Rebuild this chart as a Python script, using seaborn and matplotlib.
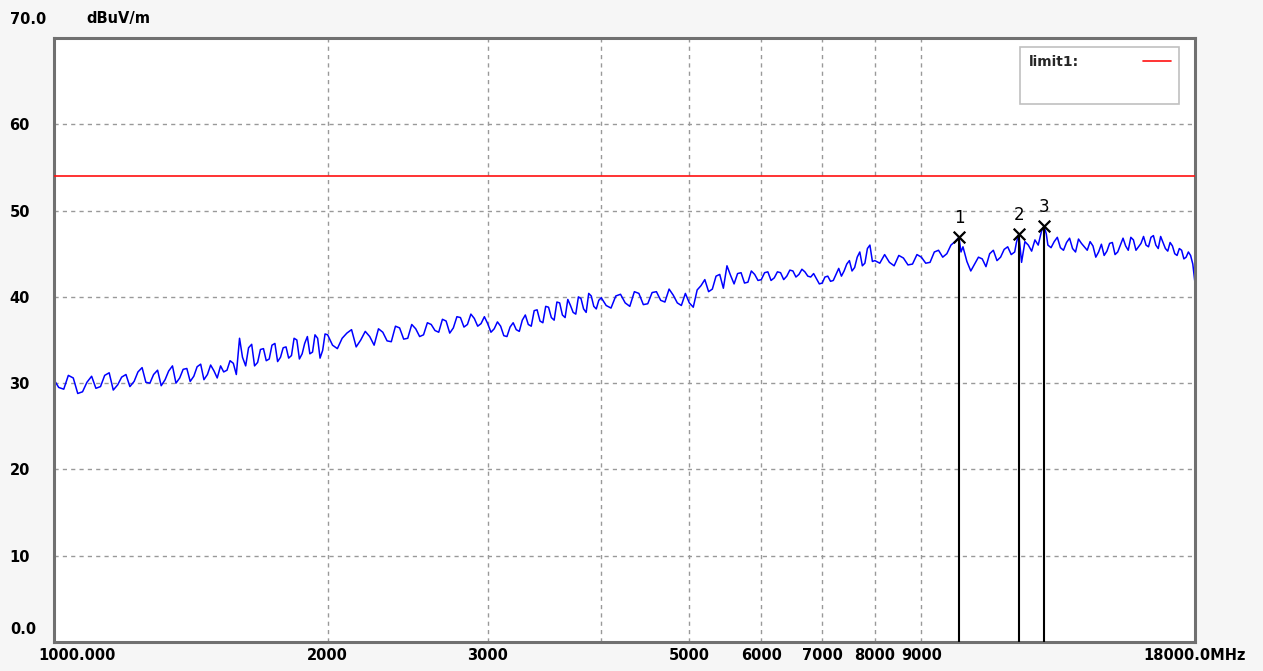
import numpy as np
import pandas as pd
import matplotlib
matplotlib.use('Agg')
import matplotlib.pyplot as plt
import matplotlib.transforms as mtransforms
from matplotlib.lines import Line2D
import seaborn as sns

# ---------------- DATA ----------------

# sweep 1000 - 2000 MHz
freq_a = [1000, 1025, 1050, 1075, 1100, 1125, 1150, 1175, 1200, 1225,
          1250, 1275, 1300, 1325, 1350, 1375, 1400, 1425, 1450, 1475,
          1500, 1525, 1550, 1575, 1600, 1625, 1650, 1675, 1700, 1725,
          1750, 1775, 1800, 1825, 1850, 1875, 1900, 1925, 1950, 1975]
level_a = [30.4, 29.3, 30.6, 29.0, 30.8, 29.6, 31.2, 29.8, 31.0, 30.2,
           31.8, 30.0, 31.5, 30.4, 32.0, 30.6, 31.7, 30.8, 32.2, 31.0,
           31.4, 32.0, 31.5, 32.3, 35.2, 32.0, 34.5, 32.4, 34.0, 32.8,
           34.6, 33.0, 34.2, 33.2, 35.0, 33.4, 35.4, 33.6, 35.2, 33.8]
freq_a2 = [1012, 1037, 1062, 1087, 1112, 1137, 1162, 1187, 1212, 1237,
           1262, 1287, 1312, 1337, 1362, 1387, 1412, 1437, 1462, 1487,
           1512, 1537, 1562, 1587, 1612, 1637, 1662, 1687, 1712, 1737,
           1762, 1787, 1812, 1837, 1862, 1887, 1912, 1937, 1962, 1987]
level_a2 = [29.5, 30.9, 28.8, 30.1, 29.4, 30.9, 29.2, 30.7, 29.6, 31.3,
            30.1, 31.0, 29.7, 31.4, 30.0, 31.6, 30.2, 31.9, 30.4, 32.1,
            30.6, 31.3, 32.6, 31.0, 33.0, 34.1, 32.0, 33.9, 32.6, 34.4,
            32.5, 34.1, 32.9, 35.2, 32.8, 34.6, 33.4, 35.6, 32.9, 35.7]

# sweep 2000 - 4000 MHz
freq_b = [2000, 2050, 2100, 2150, 2200, 2250, 2300, 2350, 2400, 2450,
          2500, 2550, 2600, 2650, 2700, 2750, 2800, 2850, 2900, 2950,
          3000, 3050, 3100, 3150, 3200, 3250, 3300, 3350, 3400, 3450,
          3500, 3550, 3600, 3650, 3700, 3750, 3800, 3850, 3900, 3950]
level_b = [35.6, 34.0, 35.8, 34.2, 36.0, 34.4, 35.9, 34.8, 36.4, 35.2,
           36.3, 35.6, 36.8, 35.9, 37.2, 36.4, 37.6, 36.8, 37.5, 36.9,
           36.9, 36.3, 36.6, 35.4, 37.0, 36.0, 37.9, 36.6, 38.5, 37.0,
           38.8, 37.3, 39.3, 37.6, 39.0, 38.0, 39.8, 38.2, 40.1, 38.6]
freq_b2 = [2025, 2075, 2125, 2175, 2225, 2275, 2325, 2375, 2425, 2475,
           2525, 2575, 2625, 2675, 2725, 2775, 2825, 2875, 2925, 2975,
           3025, 3075, 3125, 3175, 3225, 3275, 3325, 3375, 3425, 3475,
           3525, 3575, 3625, 3675, 3725, 3775, 3825, 3875, 3925, 3975]
level_b2 = [34.4, 35.2, 36.2, 35.0, 35.4, 36.3, 34.9, 36.6, 35.1, 36.8,
            35.4, 37.0, 36.1, 37.4, 35.8, 37.7, 36.5, 38.0, 36.6, 37.7,
            35.9, 37.1, 35.5, 36.5, 36.2, 37.3, 36.8, 38.4, 37.2, 38.9,
            37.6, 39.4, 37.9, 39.7, 38.2, 40.0, 38.6, 40.4, 38.9, 39.6]

# sweep 4000 - 8000 MHz
freq_c = [4000, 4100, 4200, 4300, 4400, 4500, 4600, 4700, 4800, 4900,
          5000, 5100, 5200, 5300, 5400, 5500, 5600, 5700, 5800, 5900,
          6000, 6100, 6200, 6300, 6400, 6500, 6600, 6700, 6800, 6900,
          7000, 7100, 7200, 7300, 7400, 7500, 7600, 7700, 7800, 7900]
level_c = [39.9, 38.7, 40.3, 38.9, 40.4, 39.2, 40.6, 39.4, 40.2, 39.0,
           39.3, 40.8, 42.0, 40.9, 42.6, 43.6, 41.5, 42.8, 41.7, 42.6,
           42.0, 42.9, 42.2, 42.8, 42.4, 43.0, 42.6, 42.9, 42.3, 42.1,
           41.6, 42.4, 41.9, 43.3, 43.0, 44.2, 43.4, 45.2, 43.9, 46.0]
freq_c2 = [4050, 4150, 4250, 4350, 4450, 4550, 4650, 4750, 4850, 4950,
           5050, 5150, 5250, 5350, 5450, 5550, 5650, 5750, 5850, 5950,
           6050, 6150, 6250, 6350, 6450, 6550, 6650, 6750, 6850, 6950,
           7050, 7150, 7250, 7350, 7450, 7550, 7650, 7750, 7850, 7950]
level_c2 = [39.0, 40.1, 39.3, 40.6, 39.1, 40.5, 39.6, 40.9, 39.3, 40.4,
            38.8, 41.3, 40.6, 42.4, 41.0, 42.5, 42.7, 41.6, 43.0, 41.9,
            42.8, 41.9, 42.9, 42.0, 43.1, 42.3, 43.2, 42.4, 42.7, 41.5,
            42.3, 41.8, 42.6, 42.4, 43.8, 43.0, 44.6, 43.6, 45.6, 44.1]

# sweep 8000 - 18000 MHz
freq_d = [8000, 8200, 8400, 8600, 8800, 9000, 9200, 9400, 9600, 9800,
          10000, 10200, 10400, 10600, 10800, 11000, 11200, 11400, 11600, 11800,
          12000, 12200, 12400, 12600, 12800, 13000, 13200, 13400, 13600, 13800,
          14000, 14200, 14400, 14600, 14800, 15000, 15200, 15400, 15600, 15800,
          16000, 16200, 16400, 16600, 16800, 17000, 17200, 17400, 17600, 17800,
          18000]
level_d = [44.2, 44.9, 43.6, 44.5, 43.8, 44.6, 44.0, 45.4, 45.0, 46.4,
           45.8, 43.0, 44.6, 43.5, 45.4, 44.6, 45.8, 45.2, 44.0, 46.0,
           46.6, 47.6, 46.0, 46.4, 45.7, 46.3, 45.6, 46.7, 45.8, 46.4,
           44.6, 46.1, 45.3, 46.3, 45.2, 46.8, 45.4, 46.6, 45.8, 47.0,
           45.8, 47.1, 45.6, 46.3, 45.3, 45.9, 44.8, 45.4, 44.6, 44.8,
           41.6]
freq_d2 = [8100, 8300, 8500, 8700, 8900, 9100, 9300, 9500, 9700, 9950,
           10100, 10300, 10500, 10700, 10900, 11100, 11300, 11450, 11700, 11900,
           12100, 12350, 12500, 12700, 12900, 13100, 13300, 13500, 13700, 13900,
           14100, 14300, 14500, 14700, 14900, 15100, 15300, 15500, 15700, 15900,
           16100, 16300, 16500, 16700, 16900, 17100, 17300, 17500, 17700, 17900]
level_d2 = [43.9, 44.0, 44.8, 43.7, 44.9, 43.9, 45.2, 44.6, 46.0, 45.2,
            44.1, 43.8, 44.4, 45.0, 44.2, 45.5, 44.9, 46.3, 46.4, 45.3,
            46.0, 47.3, 45.7, 46.9, 45.4, 46.8, 45.2, 46.2, 45.4, 45.9,
            45.2, 44.8, 46.2, 44.9, 46.0, 45.9, 46.9, 45.4, 46.2, 46.0,
            46.9, 46.0, 47.0, 45.6, 46.3, 45.0, 45.6, 44.4, 45.2, 43.8]

# markers
marker_id = ['1', '2', '3']
marker_freq = [9900, 11520, 12280]
marker_level = [46.9, 47.3, 48.2]

limit1 = 54.0

# axis ticks
x_ticks = [1000, 2000, 3000, 4000, 5000, 6000, 7000, 8000, 9000, 18000]
x_labels = ['1000.000', '2000', '3000', '', '5000', '6000', '7000', '8000', '9000', '18000.0MHz']
y_ticks = [10, 20, 30, 40, 50, 60]
y_labels = ['10', '20', '30', '40', '50', '60']

# ---------------- BUILD TABLE ----------------

trace = pd.DataFrame({
    'freq': freq_a + freq_a2 + freq_b + freq_b2 + freq_c + freq_c2 + freq_d + freq_d2 + marker_freq,
    'level': level_a + level_a2 + level_b + level_b2 + level_c + level_c2 + level_d + level_d2 + marker_level,
}).sort_values('freq')
markers = pd.DataFrame({'freq': marker_freq, 'level': marker_level, 'id': marker_id})

# ---------------- PLOT ----------------

sns.set_style('white')
plt.rcParams['font.family'] = ['DejaVu Sans']
font = dict(fontsize=10.5, fontweight='bold', color='black')

fig = plt.figure(figsize=(12.63, 6.71), dpi=100, facecolor='#f6f6f6')
ax = fig.add_axes([54 / 1263, 29 / 671, 1141 / 1263, 604 / 671])
ax.set_facecolor('white')

sns.lineplot(data=trace, x='freq', y='level', color='#0000ff', linewidth=1.1,
             estimator=None, sort=True, ax=ax)
ax.axhline(limit1, color='#ff1010', linewidth=1.2, zorder=3)

for f, v in zip(marker_freq, marker_level):
    ax.vlines(f, 0, v, color='black', linewidth=1.5, zorder=4)
sns.scatterplot(data=markers, x='freq', y='level', marker='x', s=70, color='black',
                linewidth=1.6, zorder=5, ax=ax, legend=False)
for f, v, t in zip(marker_freq, marker_level, marker_id):
    ax.text(f, v + 1.2, t, ha='center', va='bottom', fontsize=12, color='black')

ax.set_xscale('log')
ax.set_xlim(1000, 18000)
ax.set_ylim(0, 70)
ax.xaxis.set_minor_locator(matplotlib.ticker.NullLocator())
ax.set_xticks(x_ticks)
ax.set_xticklabels(x_labels, **font)
ax.set_yticks(y_ticks)
ax.set_yticklabels(y_labels, ha='left', **font)
ax.tick_params(axis='both', length=0)
ax.tick_params(axis='y', pad=32)
ax.tick_params(axis='x', pad=4)
ax.set_xlabel('')
ax.set_ylabel('')

# first x label sits to the right of its tick
first = ax.get_xticklabels()[0]
first.set_transform(first.get_transform() + mtransforms.ScaledTranslation(23 / 100, 0, fig.dpi_scale_trans))

ax.grid(True, which='major', color='#999999', linestyle=(0, (3, 3)), linewidth=1.0)

for s in ax.spines.values():
    s.set_color('#707070')
    s.set_linewidth(2.2)

# y-axis end labels
ax.text(-44 / 1141, 1.5, '0.0', transform=mtransforms.blended_transform_factory(ax.transAxes, ax.transData),
        ha='left', va='center', **font)
fig.text(10 / 1263, 1 - 19 / 671, '70.0', ha='left', va='center', **font)
fig.text(86 / 1263, 1 - 19 / 671, 'dBuV/m', ha='left', va='center', **font)

# legend box
handles = [Line2D([], [], color='#ff1010', linewidth=1.2),
           Line2D([], [], color='none')]
leg = ax.legend(handles, ['limit1:', ' '], loc='upper right', bbox_to_anchor=(0.992, 0.997),
                markerfirst=False, frameon=True, fancybox=False, handlelength=2.0,
                handletextpad=4.6, borderpad=0.6, labelspacing=0.9,
                prop={'size': 10, 'weight': 'bold'})
leg.get_frame().set_edgecolor('#b0b0b0')
leg.get_frame().set_linewidth(1.2)

fig.savefig('out.png', dpi=100, facecolor=fig.get_facecolor())
